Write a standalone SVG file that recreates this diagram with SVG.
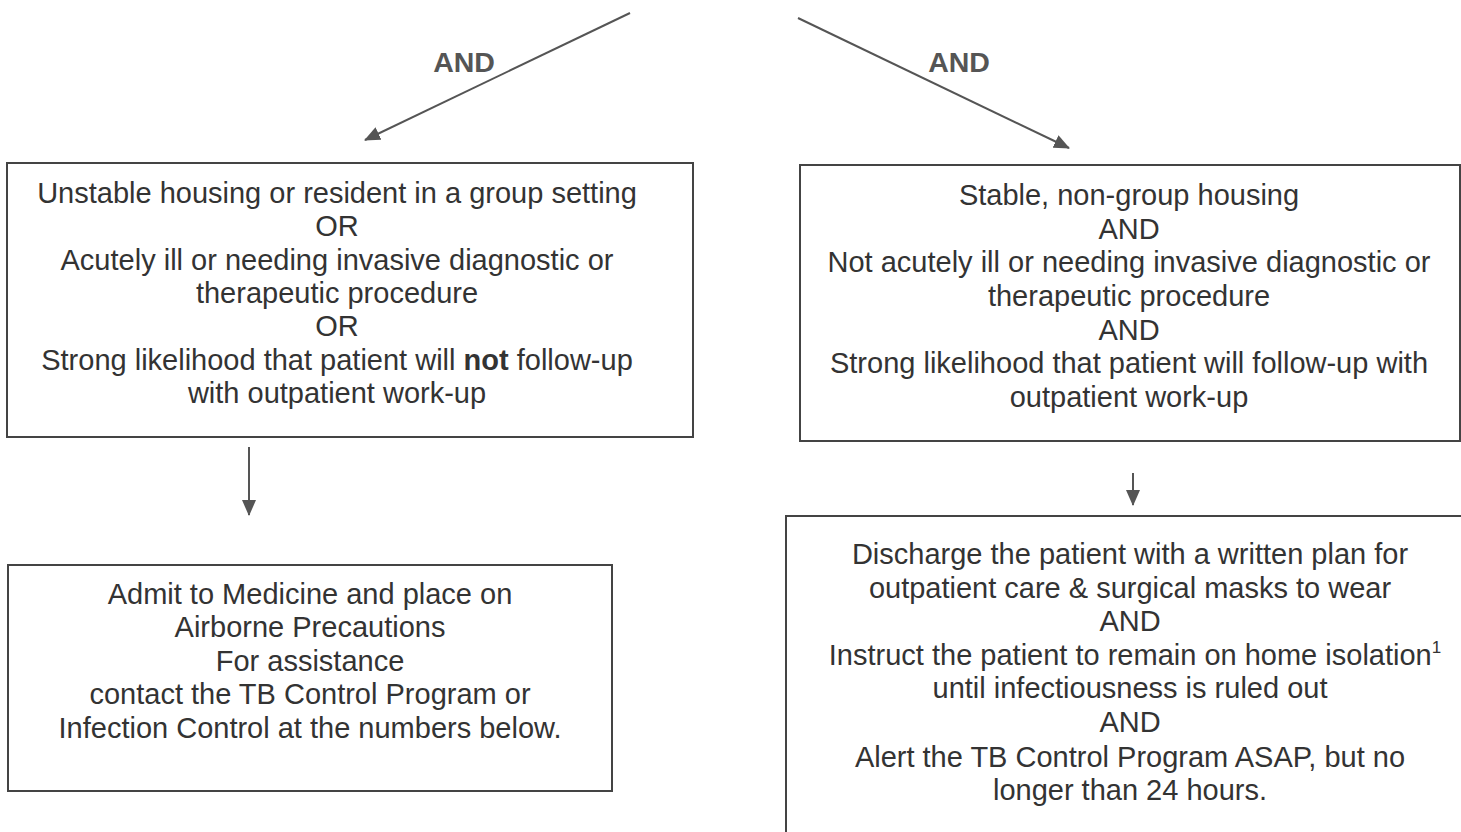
<svg xmlns="http://www.w3.org/2000/svg" width="1461" height="832" viewBox="0 0 1461 832">
<style>
.box{fill:none;stroke:#444;stroke-width:2}
.t{font-family:"Liberation Sans",Arial,sans-serif;font-size:29px;fill:#333;text-anchor:middle}
.lab{font-family:"Liberation Sans",Arial,sans-serif;font-size:28.5px;font-weight:bold;fill:#555;text-anchor:middle}
.c{stroke:#555;stroke-width:2;fill:none}
</style>
<defs>
<marker id="ah2" markerWidth="16" markerHeight="14" refX="15" refY="7" orient="auto" markerUnits="userSpaceOnUse"><path d="M0,0 L16,7 L0,14 z" fill="#555"/></marker>
</defs>
<g id="connectors">
<line class="c" x1="630" y1="13" x2="365" y2="140" marker-end="url(#ah2)"/>
<line class="c" x1="798" y1="18" x2="1069" y2="148" marker-end="url(#ah2)"/>
<line class="c" x1="249" y1="447" x2="249" y2="515" marker-end="url(#ah2)"/>
<line class="c" x1="1133" y1="473" x2="1133" y2="505" marker-end="url(#ah2)"/>
<text class="lab" x="464" y="72">AND</text>
<text class="lab" x="959" y="72">AND</text>
</g>
<g id="box1">
<rect class="box" x="7" y="163" width="686" height="274"/>
<text class="t" x="337" y="203">Unstable housing or resident in a group setting</text>
<text class="t" x="337" y="236">OR</text>
<text class="t" x="337" y="270">Acutely ill or needing invasive diagnostic or</text>
<text class="t" x="337" y="303">therapeutic procedure</text>
<text class="t" x="337" y="336">OR</text>
<text class="t" x="337" y="370">Strong likelihood that patient will <tspan font-weight="bold">not</tspan> follow-up</text>
<text class="t" x="337" y="403">with outpatient work-up</text>
</g>
<g id="box2">
<rect class="box" x="800" y="165" width="660" height="276"/>
<text class="t" x="1129" y="205">Stable, non-group housing</text>
<text class="t" x="1129" y="239">AND</text>
<text class="t" x="1129" y="272">Not acutely ill or needing invasive diagnostic or</text>
<text class="t" x="1129" y="306">therapeutic procedure</text>
<text class="t" x="1129" y="340">AND</text>
<text class="t" x="1129" y="373">Strong likelihood that patient will follow-up with</text>
<text class="t" x="1129" y="407">outpatient work-up</text>
</g>
<g id="box3">
<rect class="box" x="8" y="565" width="604" height="226"/>
<text class="t" x="310" y="604">Admit to Medicine and place on</text>
<text class="t" x="310" y="637">Airborne Precautions</text>
<text class="t" x="310" y="671">For assistance</text>
<text class="t" x="310" y="704">contact the TB Control Program or</text>
<text class="t" x="310" y="738">Infection Control at the numbers below.</text>
</g>
<g id="box4">
<rect class="box" x="786" y="516" width="690" height="330"/>
<text class="t" x="1130" y="564">Discharge the patient with a written plan for</text>
<text class="t" x="1130" y="598">outpatient care &amp; surgical masks to wear</text>
<text class="t" x="1130" y="631">AND</text>
<text class="t" x="1135" y="665">Instruct the patient to remain on home isolation<tspan font-size="17" dy="-12">1</tspan></text>
<text class="t" x="1130" y="698">until infectiousness is ruled out</text>
<text class="t" x="1130" y="732">AND</text>
<text class="t" x="1130" y="767">Alert the TB Control Program ASAP, but no</text>
<text class="t" x="1130" y="800">longer than 24 hours.</text>
</g>
</svg>
